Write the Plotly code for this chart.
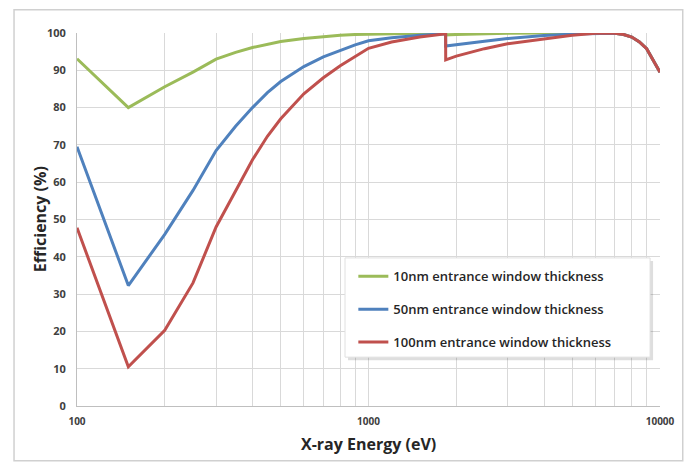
import plotly.graph_objects as go

# X-ray energy (eV)
energy = [100, 150, 200, 250, 300, 350, 400, 450, 500, 600, 700, 800, 900, 1000,
          1200, 1500, 1839, 1840, 2000, 2500, 3000, 4000, 5000, 6000, 7000, 7500,
          8000, 8500, 9000, 10000]

# Efficiency (%)
eff_10nm = [93.1, 80.0, 85.6, 89.5, 93.0, 94.8, 96.1, 97.0, 97.7, 98.5, 99.0, 99.4, 99.6, 99.7,
            99.8, 99.9, 100.0, 99.5, 99.6, 99.8, 99.9, 100.0, 100.0, 100.0, 99.9, 99.6,
            98.9, 97.6, 95.8, 89.5]
eff_50nm = [69.5, 32.3, 46.0, 57.8, 68.5, 75.0, 80.0, 84.0, 87.0, 91.0, 93.6, 95.4, 96.8, 97.9,
            98.7, 99.4, 99.8, 96.5, 96.9, 97.8, 98.5, 99.3, 99.7, 99.9, 99.9, 99.6,
            98.9, 97.6, 95.8, 89.5]
eff_100nm = [47.8, 10.5, 20.3, 33.0, 48.0, 57.5, 66.0, 72.3, 77.0, 83.7, 88.0, 91.2, 93.8, 95.9,
             97.6, 98.9, 99.8, 92.8, 93.8, 95.8, 97.1, 98.5, 99.4, 99.9, 99.9, 99.6,
             98.9, 97.6, 95.8, 89.5]

series_names = ["10nm entrance window thickness",
                "50nm entrance window thickness",
                "100nm entrance window thickness"]
series_colors = ["#9bbb59", "#4f81bd", "#c0504d"]

x_tickvals = [100, 1000, 10000]
x_ticktext = ["100", "1000", "10000"]
x_minor = [200, 300, 400, 500, 600, 700, 800, 900,
           2000, 3000, 4000, 5000, 6000, 7000, 8000, 9000]
y_tickvals = [0, 10, 20, 30, 40, 50, 60, 70, 80, 90, 100]

fig = go.Figure()
for i, (name, vals, col) in enumerate(zip(series_names, [eff_10nm, eff_50nm, eff_100nm], series_colors)):
    fig.add_trace(go.Scatter(
        x=energy, y=vals, mode="lines", name=name,
        line=dict(color=col, width=3),
        legendgroup=f"g{i}", hoverinfo="skip",
    ))

grid = "#d9d9d9"
tickfont = dict(family="Open Sans", size=10, color="#404040", weight="bold")

# legend box (paper fractions) drawn as shapes so it can carry a shadow
lg_x0, lg_x1, lg_y0, lg_y1 = 0.4597, 0.983, 0.131, 0.397
sx, sy = 3 / 583, 3 / 373

fig.update_layout(
    width=687, height=462,
    margin=dict(l=77, r=27, t=33, b=56),
    paper_bgcolor="white", plot_bgcolor="white",
    showlegend=True,
    legend=dict(
        x=0.474, y=0.388, xanchor="left", yanchor="top",
        bgcolor="rgba(0,0,0,0)", borderwidth=0,
        font=dict(family="Open Sans", size=13, color="#262626", weight=600),
        tracegroupgap=13, itemwidth=30,
    ),
    xaxis=dict(
        type="log", range=[2, 4],
        tickmode="array", tickvals=x_tickvals, ticktext=x_ticktext,
        showgrid=True, gridcolor=grid, gridwidth=1,
        minor=dict(tickmode="array", tickvals=x_minor, showgrid=True, gridcolor=grid, gridwidth=1, ticks=""),
        showline=True, linecolor="#bfbfbf", linewidth=1,
        ticks="", tickfont=tickfont, ticklabelstandoff=6,
        zeroline=False,
    ),
    yaxis=dict(
        range=[0, 100], tickmode="array", tickvals=y_tickvals,
        showgrid=True, gridcolor=grid, gridwidth=1,
        showline=True, linecolor="#bfbfbf", linewidth=1,
        ticks="", tickfont=dict(family="Open Sans", size=11, color="#404040", weight="bold"),
        ticklabelstandoff=8, zeroline=False,
    ),
    shapes=[
        dict(type="rect", xref="paper", yref="paper",
             x0=-0.108, x1=1.039, y0=-0.147, y1=1.062,
             line=dict(color="#d0d0d0", width=1.5), fillcolor="rgba(0,0,0,0)", layer="above"),
        dict(type="rect", xref="paper", yref="paper",
             x0=lg_x0 + sx, x1=lg_x1 + sx, y0=lg_y0 - sy, y1=lg_y1 - sy,
             line=dict(width=0), fillcolor="rgba(0,0,0,0.13)", layer="above"),
        dict(type="rect", xref="paper", yref="paper",
             x0=lg_x0, x1=lg_x1, y0=lg_y0, y1=lg_y1,
             line=dict(color="#e0e0e0", width=1), fillcolor="white", layer="above"),
    ],
    annotations=[
        dict(text="X-ray Energy (eV)", xref="paper", yref="paper", x=0.5, y=-0.102,
             xanchor="center", yanchor="middle", showarrow=False,
             font=dict(family="Open Sans", size=16, color="#262626", weight="bold")),
        dict(text="Efficiency (%)", xref="paper", yref="paper", x=-0.064, y=0.5,
             xanchor="center", yanchor="middle", showarrow=False, textangle=-90,
             font=dict(family="Open Sans", size=16, color="#262626", weight="bold")),
    ],
)

fig.write_html("out.html", config={"displayModeBar": False},
               post_script="document.body.style.margin='0';")
